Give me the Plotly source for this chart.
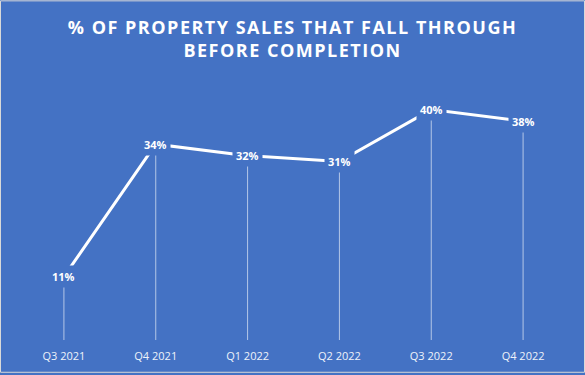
import plotly.graph_objects as go

quarters = ["Q3 2021", "Q4 2021", "Q1 2022", "Q2 2022", "Q3 2022", "Q4 2022"]
fall_through_pct = [11, 34, 32, 31, 40, 38]
value_labels = ["11%", "34%", "32%", "31%", "40%", "38%"]

BG = "#4472C4"

fig = go.Figure()
fig.add_trace(go.Scatter(
    x=quarters, y=fall_through_pct, mode="lines",
    line=dict(color="white", width=3),
    error_y=dict(type="data", symmetric=False, array=[0] * len(fall_through_pct),
                 arrayminus=fall_through_pct, color="rgba(255,255,255,0.6)",
                 thickness=1, width=0),
    hoverinfo="skip", showlegend=False,
))

for q, v, t in zip(quarters, fall_through_pct, value_labels):
    fig.add_annotation(x=q, y=v, text="<b>" + t + "</b>", showarrow=False,
                       font=dict(family="Open Sans, sans-serif", size=11, color="white"),
                       bgcolor=BG, borderpad=3)

fig.update_layout(
    width=585, height=375,
    paper_bgcolor=BG, plot_bgcolor=BG,
    margin=dict(l=18, r=16, t=52, b=33),
    title=dict(text="<b>% OF PROPERTY SALES THAT FALL THROUGH<br>BEFORE COMPLETION</b>",
               x=0.5, xanchor="center", y=0.91, yanchor="top",
               font=dict(family="Open Sans, sans-serif", size=18, color="white")),
    xaxis=dict(type="category", range=[-0.5, 5.5], showgrid=False, zeroline=False,
               showline=False, ticks="", ticklabelstandoff=8,
               tickfont=dict(family="Open Sans, sans-serif", size=11, color="#eef2fa")),
    yaxis=dict(range=[0, 50], visible=False, showgrid=False, zeroline=False),
    shapes=[dict(type="rect", xref="paper", yref="paper",
                 x0=-17.5 / 551, x1=1 + 15.5 / 551, y0=-32.5 / 290, y1=1 + 51.5 / 290,
                 line=dict(color="#d9d9d9", width=1), fillcolor="rgba(0,0,0,0)")],
)

post = (
    "document.body.style.margin='0';document.body.style.overflow='hidden';"
    "document.querySelectorAll('.gtitle').forEach(function(e){e.style.letterSpacing='1.5px';});"
)
fig.write_html("out.html", config={"displayModeBar": False}, post_script=post)
